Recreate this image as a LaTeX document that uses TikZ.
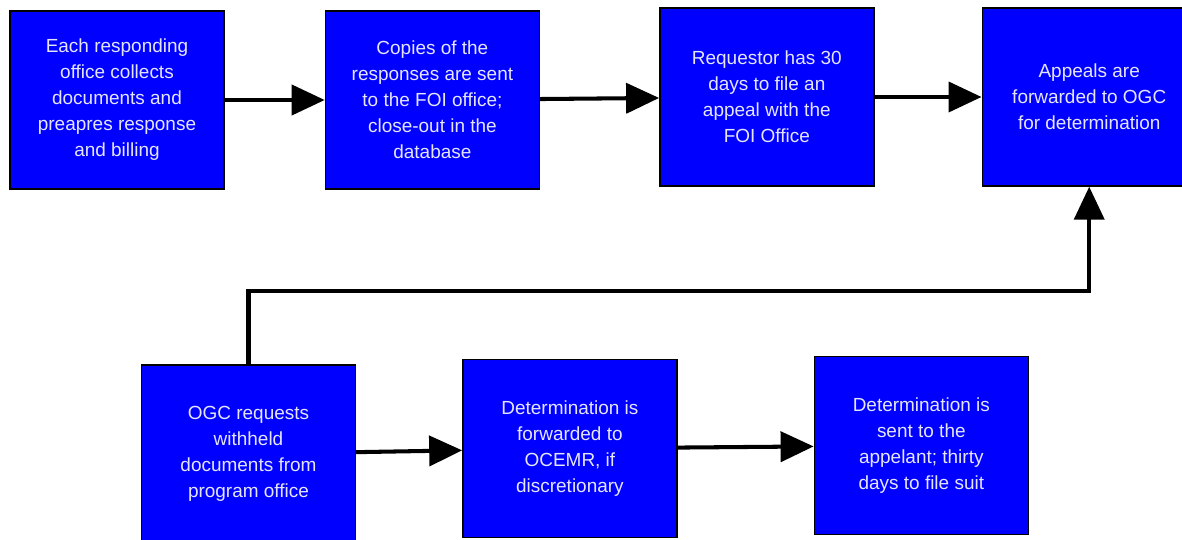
\documentclass[tikz,border=0pt]{standalone}
\usepackage{fontspec}
\setmainfont{Liberation Sans}
\usetikzlibrary{arrows.meta, positioning}

\tikzset{
  stage/.style={draw=black, line width=0.8pt, fill=blue,
    minimum width=4.28cm, minimum height=3.56cm, inner sep=0pt,
    align=center, text=white!90!blue,
    font=\fontsize{10.8}{14.8}\selectfont},
  flow/.style={-{Triangle[length=0.66cm, width=0.6cm]}, line width=2.3pt}
}

\begin{document}
\begin{tikzpicture}[node distance=2.0cm]
\useasboundingbox (0,0) rectangle (23.64,-10.8);

% Top row
\node[stage] (collect) at (2.34,-2.0) {Each responding\\office collects\\documents and\\preapres response\\and billing};

\node[stage, right=of collect] (copies) {Copies of the\\responses are sent\\to the FOI office;\\close-out in the\\database};

\node[stage, right=of copies, xshift=0.38cm, yshift=0.06cm] (requestor) {Requestor has 30\\days to file an\\appeal with the\\FOI Office};

\node[stage, right=of requestor, xshift=0.14cm] (appeals) {Appeals are\\forwarded to OGC\\for determination};

% Bottom row
\node[stage] (ogc) at (4.97,-9.08) {OGC requests\\withheld\\documents from\\program office};

\node[stage, right=of ogc, xshift=0.12cm, yshift=0.11cm] (determ) {Determination is\\forwarded to\\OCEMR, if\\discretionary};

\node[stage, right=of determ, xshift=0.72cm, yshift=0.06cm] (sent) {Determination is\\sent to the\\appelant; thirty\\days to file suit};

% Arrows
\draw[flow] (collect) -- (copies);
\draw[flow] (copies) -- (requestor);
\draw[flow] (requestor) -- (appeals);
\draw[flow] (ogc.north) -- ++(0,1.46) -| (appeals.south);
\draw[flow] (ogc) -- (determ);
\draw[flow] (determ) -- (sent);
\end{tikzpicture}
\end{document}
